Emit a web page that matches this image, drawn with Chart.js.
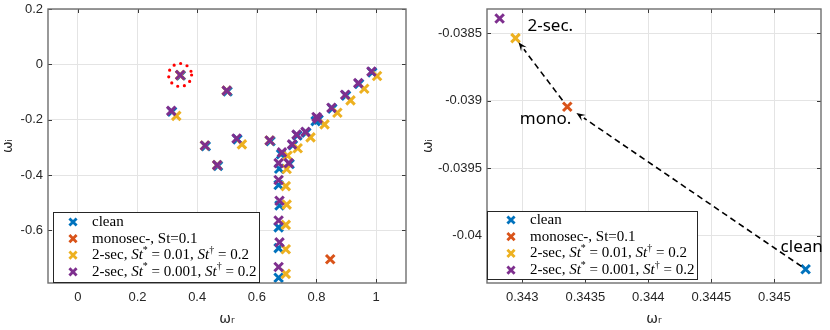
<!DOCTYPE html>
<html>
<head>
<meta charset="utf-8">
<script src="https://cdn.jsdelivr.net/npm/chart.js@4.4.1/dist/chart.umd.min.js"></script>
<style>
body { margin: 0; background: #fff; width: 830px; height: 330px; overflow: hidden; position: relative; }
#wrapLeft { position: absolute; left: 0; top: 0; width: 415px; height: 330px; }
#wrapRight { position: absolute; left: 420px; top: 0; width: 410px; height: 330px; }
</style>
</head>
<body>
<div id="wrapLeft"><canvas id="chartLeft" width="415" height="330"></canvas></div>
<div id="wrapRight"><canvas id="chartRight" width="410" height="330"></canvas></div>
<script>
// eigenvalues, omega_r / omega_i, one pair of arrays per case
const cleanX = [0.345248, 0.502, 0.316, 0.429, 0.535, 0.47, 0.646, 0.987, 0.943, 0.899, 0.853, 0.807, 0.797, 0.766, 0.736, 0.721, 0.681, 0.675, 0.71, 0.673, 0.676, 0.673, 0.673, 0.673];
const cleanY = [-0.040248, -0.098, -0.171, -0.296, -0.271, -0.367, -0.278, -0.029, -0.071, -0.113, -0.16, -0.2, -0.205, -0.247, -0.257, -0.292, -0.325, -0.377, -0.36, -0.436, -0.51, -0.589, -0.664, -0.771];

const monoX = [0.343357, 0.846];
const monoY = [-0.039044, -0.704];

const sec01X = [0.342946, 0.499, 0.33, 0.426, 0.55, 0.467, 0.643, 1.003, 0.96, 0.914, 0.87, 0.827, 0.78, 0.737, 0.703, 0.70, 0.697, 0.70, 0.697, 0.697, 0.697];
const sec01Y = [-0.038536, -0.095, -0.186, -0.293, -0.289, -0.364, -0.275, -0.042, -0.088, -0.13, -0.175, -0.217, -0.264, -0.303, -0.33, -0.378, -0.44, -0.507, -0.58, -0.668, -0.757];

const sec001X = [0.34282, 0.499, 0.313, 0.426, 0.532, 0.467, 0.643, 0.984, 0.94, 0.896, 0.85, 0.804, 0.80, 0.763, 0.733, 0.718, 0.684, 0.673, 0.707, 0.673, 0.676, 0.673, 0.676, 0.673];
const sec001Y = [-0.03839, -0.095, -0.168, -0.293, -0.268, -0.364, -0.275, -0.026, -0.068, -0.11, -0.157, -0.196, -0.19, -0.244, -0.254, -0.289, -0.318, -0.357, -0.357, -0.418, -0.493, -0.564, -0.643, -0.732];

const seriesNames = ['clean', 'monosec-, St=0.1', '2-sec, St*=0.01, St†=0.2', '2-sec, St*=0.001, St†=0.2'];
const seriesColors = ['#0072BD', '#D95319', '#EDB120', '#7E2F8E'];

const xTicksLeft = [0, 0.2, 0.4, 0.6, 0.8, 1];
const yTicksLeft = [-0.6, -0.4, -0.2, 0, 0.2];
const xTicksRight = [0.343, 0.3435, 0.344, 0.3445, 0.345];
const yTicksRight = [-0.04, -0.0395, -0.039, -0.0385];

// legend text pieces: [text, style]
const legendLabels = [
    [['clean', 'rm']],
    [['monosec-, St=0.1', 'rm']],
    [['2-sec, ', 'rm'], ['St', 'it'], ['*', 'sup'], [' = 0.01, ', 'rm'], ['St', 'it'], ['†', 'sup'], [' = 0.2', 'rm']],
    [['2-sec, ', 'rm'], ['St', 'it'], ['*', 'sup'], [' = 0.001, ', 'rm'], ['St', 'it'], ['†', 'sup'], [' = 0.2', 'rm']]
];
const annotLabels = ['clean', 'mono.', '2-sec.'];

const allX = [cleanX, monoX, sec01X, sec001X];
const allY = [cleanY, monoY, sec01Y, sec001Y];

function makeData(xmin, xmax, ymin, ymax, radius) {
    return {
        datasets: seriesNames.map((name, i) => {
            let pts = [];
            allX[i].forEach((x, j) => {
                const y = allY[i][j];
                if (x >= xmin && x <= xmax && y >= ymin && y <= ymax) {
                    pts.push({ x: x, y: y });
                }
            });
            return {
                label: name,
                data: pts,
                order: 3 - i, // later series drawn on top, like matlab
                pointStyle: 'crossRot',
                pointRadius: radius,
                pointHoverRadius: radius,
                pointBorderWidth: 3,
                borderColor: seriesColors[i],
                backgroundColor: seriesColors[i]
            };
        })
    };
}

function makeScale(axis, min, max, tickVals, size, title) {
    return {
        type: 'linear',
        position: axis === 'x' ? 'bottom' : 'left',
        min: min,
        max: max,
        afterBuildTicks: (s) => { s.ticks = tickVals.map(v => ({ value: v })); },
        afterFit: (s) => {
            if (axis === 'x') s.height = size; else s.width = size;
            s.paddingTop = 0; s.paddingBottom = 0; s.paddingLeft = 0; s.paddingRight = 0;
        },
        grid: { color: '#e4e4e4', drawTicks: false },
        border: { display: false },
        ticks: {
            padding: axis === 'x' ? 7 : 5,
            color: '#262626',
            font: { family: '"Liberation Sans", Arial, sans-serif', size: 13 },
            callback: (v) => String(v)
        },
        title: {
            display: true,
            text: title,
            color: '#262626',
            font: { family: '"DejaVu Sans", sans-serif', size: 14 },
            padding: { top: 0, bottom: 2 }
        }
    };
}

function drawBox(chart) {
    const ctx = chart.ctx;
    const a = chart.chartArea;
    ctx.save();
    ctx.strokeStyle = '#3a3a3a';
    ctx.lineWidth = 1;
    chart.scales.x.ticks.forEach(t => {
        const px = Math.round(chart.scales.x.getPixelForValue(t.value)) + 0.5;
        ctx.beginPath();
        ctx.moveTo(px, a.bottom); ctx.lineTo(px, a.bottom - 4);
        ctx.moveTo(px, a.top); ctx.lineTo(px, a.top + 4);
        ctx.stroke();
    });
    chart.scales.y.ticks.forEach(t => {
        const py = Math.round(chart.scales.y.getPixelForValue(t.value)) + 0.5;
        ctx.beginPath();
        ctx.moveTo(a.left, py); ctx.lineTo(a.left + 4, py);
        ctx.moveTo(a.right, py); ctx.lineTo(a.right - 4, py);
        ctx.stroke();
    });
    ctx.strokeStyle = '#6e6e6e';
    ctx.lineWidth = 1.4;
    ctx.strokeRect(a.left, a.top, a.right - a.left, a.bottom - a.top);
    ctx.restore();
}

function drawLegend(chart, bx, by, bw, bh, rowTop, rowGap, markX, textX) {
    const ctx = chart.ctx;
    ctx.save();
    ctx.fillStyle = '#fff';
    ctx.fillRect(bx, by, bw, bh);
    ctx.strokeStyle = '#262626';
    ctx.lineWidth = 1;
    ctx.strokeRect(bx + 0.5, by + 0.5, bw, bh);
    const fonts = {
        rm: '15px "Liberation Serif", serif',
        it: 'italic 15px "Liberation Serif", serif',
        sup: '10px "Liberation Serif", serif'
    };
    legendLabels.forEach((parts, i) => {
        const cy = by + rowTop + i * rowGap;
        // marker
        ctx.strokeStyle = seriesColors[i];
        ctx.lineWidth = 2.8;
        const r = 3.6;
        ctx.beginPath();
        ctx.moveTo(bx + markX - r, cy - r); ctx.lineTo(bx + markX + r, cy + r);
        ctx.moveTo(bx + markX - r, cy + r); ctx.lineTo(bx + markX + r, cy - r);
        ctx.stroke();
        // text
        let x = bx + textX;
        ctx.fillStyle = '#000';
        ctx.textBaseline = 'middle';
        parts.forEach(p => {
            ctx.font = fonts[p[1]];
            const dy = p[1] === 'sup' ? -5 : 0;
            ctx.fillText(p[0], x, cy + dy);
            x += ctx.measureText(p[0]).width;
        });
    });
    ctx.restore();
}

function drawArrow(ctx, x1, y1, x2, y2, gapStart, gapEnd) {
    const dx = x2 - x1, dy = y2 - y1;
    const len = Math.sqrt(dx * dx + dy * dy);
    const ux = dx / len, uy = dy / len;
    const sx = x1 + ux * gapStart, sy = y1 + uy * gapStart;
    const ex = x2 - ux * gapEnd, ey = y2 - uy * gapEnd;
    const head = 9, half = 3.5;
    ctx.save();
    ctx.strokeStyle = '#000';
    ctx.fillStyle = '#000';
    ctx.lineWidth = 1.6;
    ctx.setLineDash([6, 4]);
    ctx.beginPath();
    ctx.moveTo(sx, sy);
    ctx.lineTo(ex - ux * head, ey - uy * head);
    ctx.stroke();
    ctx.setLineDash([]);
    ctx.beginPath();
    ctx.moveTo(ex, ey);
    ctx.lineTo(ex - ux * head - uy * half, ey - uy * head + ux * half);
    ctx.lineTo(ex - ux * head * 0.6, ey - uy * head * 0.6);
    ctx.lineTo(ex - ux * head + uy * half, ey - uy * head - ux * half);
    ctx.closePath();
    ctx.fill();
    ctx.restore();
}

// left: full spectrum
new Chart(document.getElementById('chartLeft'), {
    type: 'scatter',
    data: makeData(-0.1, 1.1, -0.79, 0.2, 6),
    options: {
        responsive: false,
        animation: false,
        devicePixelRatio: 1,
        layout: { padding: { top: 5, right: 5, left: 0, bottom: 0 } },
        scales: {
            x: makeScale('x', -0.1, 1.1, xTicksLeft, 47, 'ωᵣ'),
            y: makeScale('y', -0.79, 0.2, yTicksLeft, 48, 'ωᵢ')
        },
        plugins: { legend: { display: false }, tooltip: { enabled: false } }
    },
    plugins: [{
        id: 'leftDecor',
        afterDatasetsDraw(chart) {
            drawBox(chart);
            const ctx = chart.ctx;
            // red dotted ring round the mode shown on the right
            const cx = chart.scales.x.getPixelForValue(sec001X[0]);
            const cy = chart.scales.y.getPixelForValue(sec001Y[0]);
            ctx.save();
            ctx.strokeStyle = '#ff0000';
            ctx.lineWidth = 3.2;
            ctx.lineCap = 'round';
            ctx.setLineDash([0, 6.8]);
            ctx.beginPath();
            ctx.arc(cx, cy, 11.5, 0, Math.PI * 2);
            ctx.stroke();
            ctx.restore();
            drawLegend(chart, 53, 212, 206, 70, 10, 16.6, 20, 39);
        }
    }]
});

// right: zoom on the least stable mode
new Chart(document.getElementById('chartRight'), {
    type: 'scatter',
    data: makeData(0.34272, 0.34537, -0.04035, -0.03832, 6),
    options: {
        responsive: false,
        animation: false,
        devicePixelRatio: 1,
        layout: { padding: { top: 5, right: 1, left: 0, bottom: 0 } },
        scales: {
            x: makeScale('x', 0.34272, 0.34537, xTicksRight, 47, 'ωᵣ'),
            y: makeScale('y', -0.04035, -0.03832, yTicksRight, 67, 'ωᵢ')
        },
        plugins: { legend: { display: false }, tooltip: { enabled: false } }
    },
    plugins: [{
        id: 'rightDecor',
        afterDatasetsDraw(chart) {
            drawBox(chart);
            const ctx = chart.ctx;
            const sx = chart.scales.x, sy = chart.scales.y;
            const pc = [sx.getPixelForValue(cleanX[0]), sy.getPixelForValue(cleanY[0])];
            const pm = [sx.getPixelForValue(monoX[0]), sy.getPixelForValue(monoY[0])];
            const p2 = [sx.getPixelForValue(sec01X[0]), sy.getPixelForValue(sec01Y[0])];
            drawArrow(ctx, pc[0], pc[1], pm[0], pm[1], 5, 11);
            drawArrow(ctx, pm[0], pm[1], p2[0], p2[1], 8, 5);
            ctx.save();
            ctx.fillStyle = '#000';
            ctx.font = '17px "Noto Sans", "Open Sans", sans-serif';
            ctx.textBaseline = 'middle';
            ctx.textAlign = 'left';
            ctx.fillText(annotLabels[0], pc[0] - 25, pc[1] - 22);
            ctx.textAlign = 'right';
            ctx.fillText(annotLabels[1], pm[0] + 4, pm[1] + 12);
            ctx.textAlign = 'left';
            ctx.fillText(annotLabels[2], p2[0] + 12, p2[1] - 12);
            ctx.restore();
            drawLegend(chart, 67, 211, 210, 68, 9, 16.7, 24, 43);
        }
    }]
});
</script>
</body>
</html>
